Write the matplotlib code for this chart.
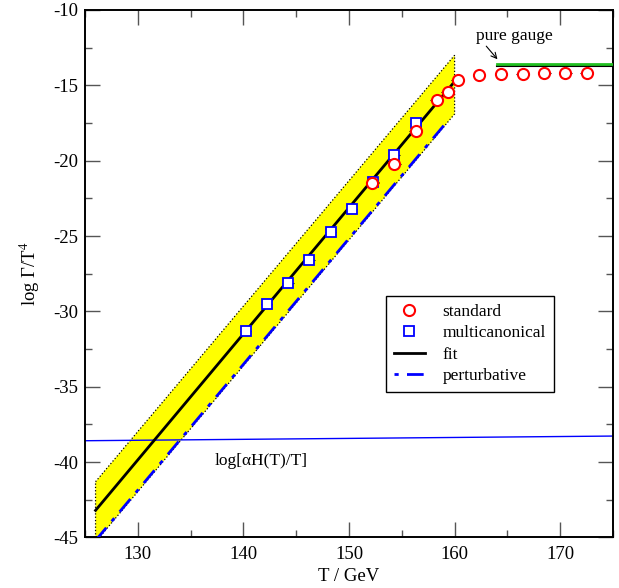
import matplotlib
matplotlib.use("Agg")
import matplotlib.pyplot as plt
from matplotlib.lines import Line2D
from matplotlib.ticker import MultipleLocator

plt.rcParams['font.family'] = ['Liberation Serif', 'DejaVu Serif']
plt.rcParams['mathtext.fontset'] = 'stix'
plt.rcParams['axes.unicode_minus'] = False

# donnees
std_T = [152.2, 154.3, 156.3, 158.3, 159.35, 160.3, 162.3, 164.4, 166.45, 168.5, 170.5, 172.5]
std_val = [-21.5, -20.24, -18.0, -15.97, -15.42, -14.65, -14.31, -14.25, -14.25, -14.2, -14.2, -14.2]

multi_T = [140.2, 142.2, 144.2, 146.25, 148.25, 150.25, 152.25, 154.3, 156.3]
multi_val = [-31.28, -29.53, -28.1, -26.59, -24.75, -23.2, -21.43, -19.62, -17.52]

fit_T = [126.0, 160.0]
fit_val = [-43.2, -14.75]

pert_T = [126.0, 159.3]
pert_val = [-45.2, -17.4]

band_T = [126.0, 160.0]
band_hi = [-41.3, -13.0]
band_lo = [-45.3, -16.9]

hubble_T = [125.0, 175.0]
hubble_val = [-38.58, -38.27]

gauge_T = [164.0, 175.0]
gauge_green = -13.6
gauge_black = -13.72

fig = plt.figure(figsize=(6.19, 5.88), dpi=100)
ax = fig.add_axes([0.1373, 0.0859, 0.8530, 0.8971])

# bande d'erreur jaune
poly_x = [band_T[0], band_T[1], band_T[1], band_T[0]]
poly_y = [band_hi[0], band_hi[1], band_lo[1], band_lo[0]]
ax.fill(poly_x, poly_y, facecolor='#ffff00', edgecolor='black', linestyle=':', linewidth=0.9, zorder=1)

ax.plot(fit_T, fit_val, color='black', lw=2.0, zorder=3)
ax.plot(pert_T, pert_val, color='#0000ff', lw=2.0, dashes=(6, 3, 1.5, 3), zorder=3)
ax.plot(hubble_T, hubble_val, color='#0000ff', lw=1.0, zorder=2)

ax.plot(gauge_T, [gauge_black, gauge_black], color='black', lw=1.5, zorder=3)
ax.plot(gauge_T, [gauge_green, gauge_green], color='#22c022', lw=2.0, zorder=3)

ax.errorbar(multi_T, multi_val, xerr=0.55, fmt='s', ms=7, mfc='white', mec='#0000ff', mew=1.3,
            ecolor='black', elinewidth=0.8, capsize=0, zorder=4)
ax.errorbar(std_T, std_val, xerr=0.6, fmt='o', ms=8, mfc='white', mec='#ff0000', mew=1.5,
            ecolor='black', elinewidth=0.8, capsize=0, zorder=5)

ax.text(162.0, -11.75, 'pure gauge', fontsize=12.5, va='center', ha='left')
ax.annotate('', xy=(164.06, -13.27), xytext=(163.0, -12.4),
            arrowprops=dict(arrowstyle='->', color='black', lw=0.8, shrinkA=0, shrinkB=0))
ax.text(137.3, -39.9, 'log[αH(T)/T]', fontsize=12.5, va='center', ha='left')

ax.set_xlim(125, 175)
ax.set_ylim(-45, -10)
ax.xaxis.set_major_locator(MultipleLocator(10))
ax.xaxis.set_minor_locator(MultipleLocator(5))
ax.yaxis.set_major_locator(MultipleLocator(5))
ax.yaxis.set_minor_locator(MultipleLocator(2.5))
ax.tick_params(which='both', direction='in', top=True, right=True, color='#555555', width=1.0, labelsize=13.5)
ax.tick_params(which='major', length=10.5)
ax.tick_params(which='minor', length=5.2)
ax.tick_params(axis='x', which='major', pad=6)
ax.tick_params(axis='y', which='major', pad=5)
for s in ax.spines.values():
    s.set_linewidth(1.4)

ax.set_xlabel('T / GeV', fontsize=13.5, labelpad=4)
ax.set_ylabel('log Γ/T$^4$', fontsize=13.5, labelpad=8)

handles = [
    Line2D([], [], ls='none', marker='o', ms=8, mfc='white', mec='#ff0000', mew=1.5),
    Line2D([], [], ls='none', marker='s', ms=7, mfc='white', mec='#0000ff', mew=1.3),
    Line2D([], [], color='black', lw=2.0),
    Line2D([], [], color='#0000ff', lw=2.0, dashes=(1.5, 3, 6, 3)),
]
labels = ['standard', 'multicanonical', 'fit', 'perturbative']
leg = ax.legend(handles, labels, loc='upper left', bbox_to_anchor=(0.570, 0.458), fontsize=12.5,
                frameon=True, fancybox=False, framealpha=1, edgecolor='black', borderaxespad=0,
                handlelength=1.8, borderpad=0.45, labelspacing=0.3, handletextpad=1.0)
leg.get_frame().set_linewidth(1.0)

fig.savefig('out.png', dpi=100)
